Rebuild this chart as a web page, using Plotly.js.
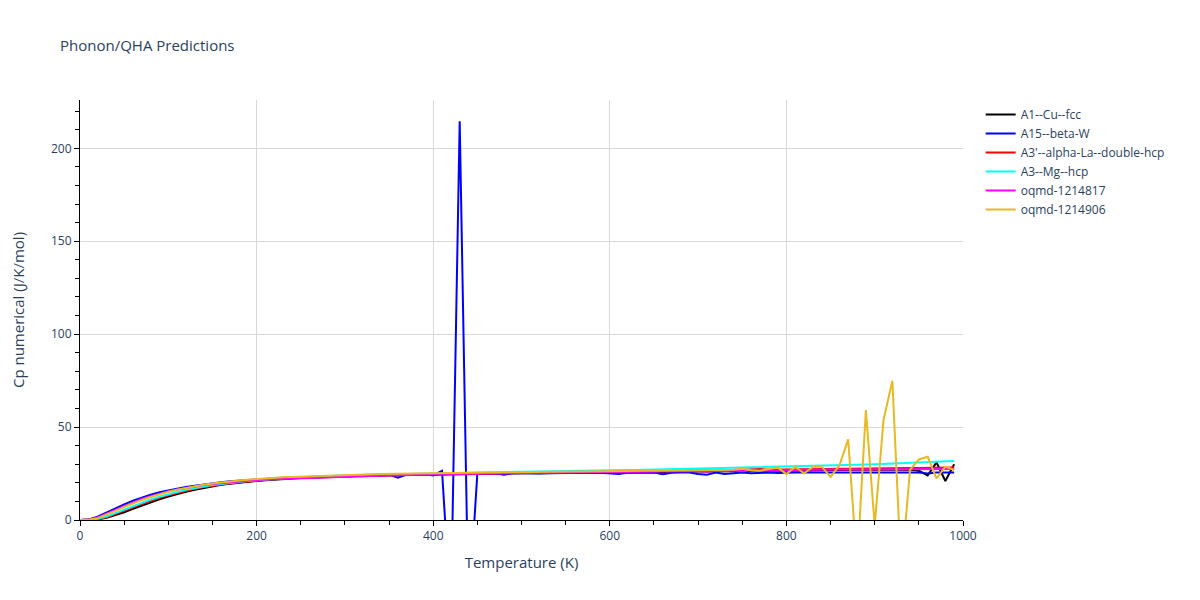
<!DOCTYPE html>
<html>
<head>
<meta charset="utf-8">
<script src="https://cdn.plot.ly/plotly-3.0.1.min.js"></script>
<style>body{margin:0;background:#fff;}</style>
</head>
<body>
<div id="chart" style="width:1200px;height:600px;"></div>
<script>
// Temperature grid (K)
const temps = [
  0,10,20,30,40,50,60,70,80,90,
  100,110,120,130,140,150,160,170,180,190,
  200,210,220,230,240,250,260,270,280,290,
  300,310,320,330,340,350,360,370,380,390,
  400,410,420,430,440,450,460,470,480,490,
  500,510,520,530,540,550,560,570,580,590,
  600,610,620,630,640,650,660,670,680,690,
  700,710,720,730,740,750,760,770,780,790,
  800,810,820,830,840,850,860,870,880,890,
  900,910,920,930,940,950,960,970,980,990
];

const cpCu = [
  0,0,0.3,1.2,2.6,4.2,6.0,7.8,9.5,11.1,
  12.6,14.0,15.2,16.3,17.3,18.1,18.9,19.5,20.1,20.6,
  21.0,21.4,21.8,22.1,22.4,22.6,22.8,23.0,23.2,23.4,
  23.5,23.6,23.7,23.8,23.9,24.0,24.1,24.2,24.3,24.4,
  24.5,24.5,24.6,24.6,24.7,24.7,24.8,24.8,24.9,25.0,
  25.1,25.1,25.2,25.2,25.3,25.3,25.4,25.4,25.5,25.5,
  25.6,25.6,25.7,25.7,25.8,25.8,25.9,25.9,26.0,26.0,
  26.1,26.1,26.2,26.2,26.3,26.3,26.4,26.4,26.5,26.5,
  26.6,26.6,26.7,26.7,26.8,26.8,26.9,26.9,27.0,27.0,
  27.0,27.1,27.1,27.2,27.2,26.5,24.0,31.0,21.0,30.0
];

const cpBetaW = [
  0,0.3,1.8,4.1,6.3,8.4,10.4,12.1,13.6,14.9,
  16.0,17.0,17.8,18.5,19.2,19.8,20.3,20.8,21.2,21.6,
  21.9,22.2,22.5,22.7,22.9,23.1,23.3,23.5,23.6,23.8,
  23.9,24.0,23.6,24.2,23.8,24.4,22.8,24.5,24.6,24.6,
  24.0,26.5,-50,214.6,-50,25.0,25.1,25.1,24.4,25.2,
  25.3,25.0,25.0,25.2,25.3,25.3,25.3,25.4,25.4,25.4,
  25.3,24.8,25.4,25.3,25.4,25.5,24.6,25.4,25.5,25.5,
  24.8,24.3,25.5,24.8,25.2,25.5,25.2,25.5,25.5,25.3,
  25.6,25.5,25.6,25.6,25.5,25.6,25.6,25.6,25.6,25.6,
  25.6,25.6,25.6,25.6,25.6,25.6,25.0,25.6,25.6,25.6
];

const cpAlphaLa = [
  0,0,0.4,1.5,3.1,4.9,6.8,8.6,10.3,11.9,
  13.3,14.6,15.8,16.8,17.7,18.5,19.2,19.8,20.3,20.8,
  21.2,21.6,22.0,22.3,22.6,22.8,23.0,23.2,23.4,23.6,
  23.7,23.8,24.0,24.1,24.2,24.3,24.4,24.5,24.6,24.7,
  24.8,24.9,24.9,25.0,25.1,25.1,25.2,25.3,25.3,25.4,
  25.5,25.5,25.6,25.7,25.7,25.8,25.9,25.9,26.0,26.0,
  26.1,26.2,26.2,26.3,26.3,26.4,26.5,26.5,26.6,26.6,
  26.7,26.8,27.2,26.8,26.9,27.3,27.0,27.4,27.1,27.2,
  27.3,27.3,27.4,27.4,27.5,27.5,27.6,27.6,27.7,27.7,
  27.8,27.8,27.9,27.9,28.0,28.0,28.1,28.1,28.2,28.2
];

const cpMg = [
  0,0.05,0.6,1.9,3.7,5.6,7.5,9.3,11.0,12.5,
  13.9,15.1,16.2,17.2,18.0,18.8,19.4,20.0,20.5,21.0,
  21.4,21.8,22.1,22.4,22.7,22.9,23.2,23.4,23.6,23.8,
  23.9,24.1,24.2,24.4,24.5,24.6,24.7,24.8,24.9,25.0,
  25.1,25.2,25.3,25.4,25.5,25.6,25.7,25.8,25.9,25.9,
  26.0,26.1,26.2,26.2,26.3,26.4,26.4,26.5,26.6,26.6,
  26.7,26.8,26.9,26.9,27.0,27.1,27.2,27.3,27.3,27.4,
  27.5,27.6,27.7,27.8,27.9,28.0,28.1,28.2,28.3,28.4,
  28.6,28.7,28.8,28.9,29.1,29.2,29.3,29.5,29.6,29.8,
  30.0,30.2,30.4,30.6,30.8,31.0,31.2,31.4,31.6,31.8
];

const cpOqmd817 = [
  0,0.2,1.4,3.4,5.6,7.7,9.6,11.3,12.8,14.2,
  15.4,16.4,17.3,18.1,18.8,19.4,19.9,20.4,20.8,21.2,
  21.5,21.8,22.0,22.2,22.4,22.6,22.8,23.0,23.1,23.2,
  23.3,23.4,23.5,23.7,23.8,23.9,24.1,24.2,24.4,24.5,
  24.6,24.7,24.8,24.8,24.9,25.0,25.0,25.1,25.1,25.2,
  25.3,25.3,25.4,25.4,25.5,25.5,25.6,25.6,25.7,25.7,
  25.8,25.8,25.9,25.9,26.0,26.0,26.1,26.1,26.2,26.2,
  26.3,26.0,26.5,26.2,26.6,26.2,26.7,26.4,26.8,26.6,
  26.9,26.9,27.0,27.0,27.0,27.1,27.1,27.1,27.2,27.2,
  27.2,27.2,27.3,27.3,27.3,27.3,27.4,27.4,27.4,27.4
];

const cpOqmd906 = [
  0,0.1,1.0,2.8,4.9,7.0,9.0,10.8,12.4,13.9,
  15.2,16.3,17.3,18.2,19.0,19.7,20.3,20.8,21.3,21.7,
  22.1,22.4,22.7,23.0,23.2,23.4,23.6,23.8,24.0,24.2,
  24.3,24.4,24.5,24.6,24.7,24.8,24.9,25.0,25.1,25.2,
  25.3,25.3,25.4,25.4,25.5,25.5,25.6,25.6,25.7,25.7,
  25.8,25.8,25.9,25.9,26.0,26.0,26.1,26.1,26.2,26.2,
  26.3,26.3,26.4,26.4,26.5,26.5,26.6,26.6,26.7,26.7,
  26.7,26.8,26.8,26.9,27.0,27.6,26.8,26.5,27.2,28.3,
  24.7,28.7,25.0,28.7,28.7,23.2,29.3,43.4,-25,59.1,
  -3,53.8,74.9,-28,27.0,32.6,34.0,22.4,28.7,26.9
];

const names = ["A1--Cu--fcc", "A15--beta-W", "A3'--alpha-La--double-hcp",
               "A3--Mg--hcp", "oqmd-1214817", "oqmd-1214906"];
const colors = ["#000000", "#0000ff", "#ff0000", "#00ffff", "#ff00ff", "#e8b920"];
const series = [cpCu, cpBetaW, cpAlphaLa, cpMg, cpOqmd817, cpOqmd906];

const traces = series.map((ys, i) => {
    return {
        x: temps,
        y: ys,
        type: 'scatter',
        mode: 'lines',
        name: names[i],
        line: {color: colors[i], width: 2}
    };
});

const axisFont = {family: 'Open Sans, Arial, sans-serif', size: 12, color: '#2a3f5f'};

Plotly.newPlot('chart', traces, {
    width: 1200,
    height: 600,
    paper_bgcolor: '#ffffff',
    plot_bgcolor: '#ffffff',
    font: axisFont,
    title: {text: 'Phonon/QHA Predictions', x: 0.05, y: 0.933, font: {size: 15, color: '#2a3f5f'}},
    margin: {l: 80, r: 237, t: 100, b: 80},
    showlegend: true,
    legend: {x: 1.02, y: 1, font: {size: 12}},
    xaxis: {
        title: {text: 'Temperature (K)', font: {size: 15}, standoff: 14},
        range: [0, 1000],
        dtick: 200,
        showgrid: true,
        gridcolor: '#d9d9d9',
        zeroline: false,
        showline: true,
        linecolor: '#000000',
        linewidth: 1,
        ticks: 'outside',
        ticklen: 5,
        tickcolor: '#000000',
        minor: {ticks: 'outside', dtick: 50, ticklen: 4, tickcolor: '#000000'}
    },
    yaxis: {
        title: {text: 'Cp numerical (J/K/mol)', font: {size: 15}, standoff: 22},
        range: [0, 226],
        dtick: 50,
        showgrid: true,
        gridcolor: '#d9d9d9',
        zeroline: false,
        showline: true,
        linecolor: '#000000',
        linewidth: 1,
        ticks: 'outside',
        ticklen: 5,
        tickcolor: '#000000',
        minor: {ticks: 'outside', dtick: 10, ticklen: 4, tickcolor: '#000000'}
    }
}, {displayModeBar: false});
</script>
</body>
</html>
